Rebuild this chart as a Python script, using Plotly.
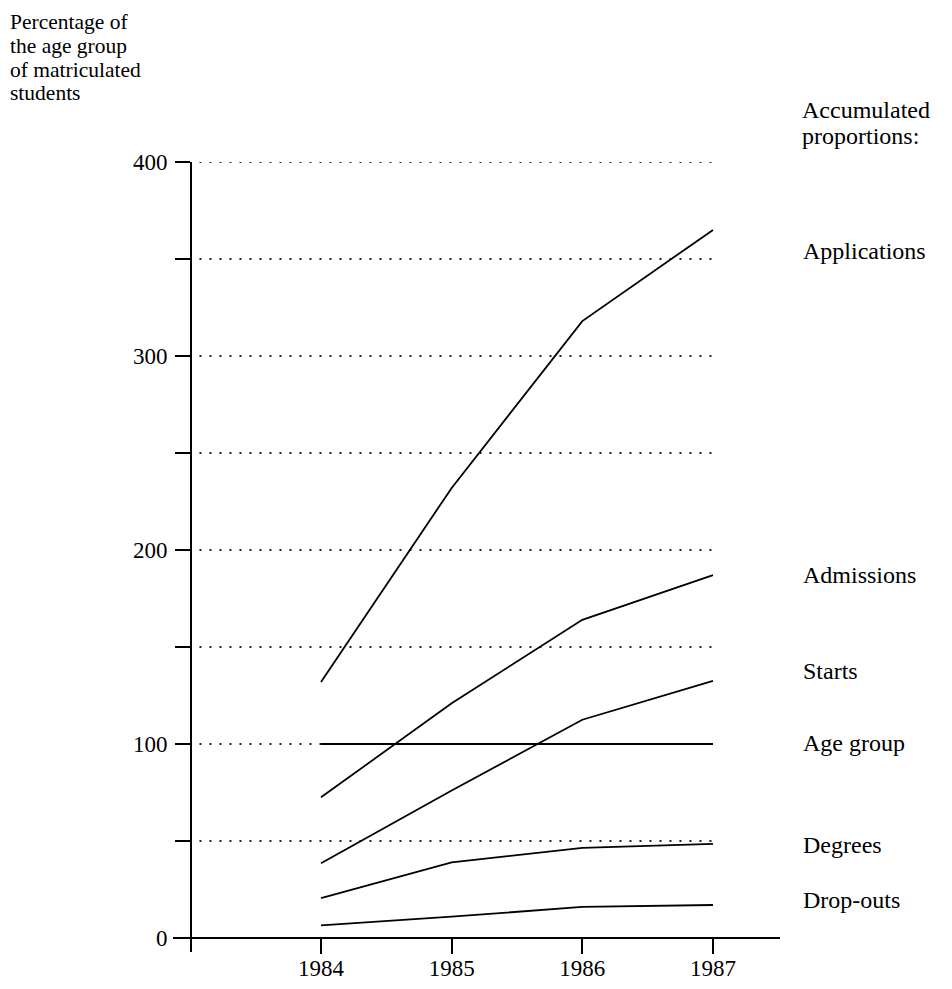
import plotly.graph_objects as go

years = [1984, 1985, 1986, 1987]
applications = [132, 232, 318, 365]
admissions = [72.5, 121, 164, 187]
starts = [38.5, 76, 112.5, 132.5]
age_group = [100, 100, 100, 100]
degrees = [20.5, 39, 46.5, 48.5]
dropouts = [6.5, 11, 16, 17]

series_names = ["Applications", "Admissions", "Starts", "Age group", "Degrees", "Drop-outs"]
series_values = [applications, admissions, starts, age_group, degrees, dropouts]

y_tick_vals = [0, 50, 100, 150, 200, 250, 300, 350, 400]
y_tick_text = ["0", "", "100", "", "200", "", "300", "", "400"]
grid_vals = [50, 100, 150, 200, 250, 300, 350, 400]

title_lines = ["Percentage of", "the age group", "of matriculated", "students"]
right_title = ["Accumulated", "proportions:"]

# page offset of the default html body margin
OFF = 8
W, H = 952 - OFF, 989 - OFF
# plot area in page pixels
L, R, T, B = 173, 780, 162, 952
Lf, Rf, Tf, Bf = L - OFF, R - OFF, T - OFF, B - OFF
FONT = "Liberation Serif, Times New Roman, serif"
FS = 23
FSW = 24
FST = 21.5

fig = go.Figure()

for g in grid_vals:
    fig.add_shape(type="line", xref="x", yref="y", x0=1983.07, x1=1987.03, y0=g, y1=g,
                  line=dict(color="#222", width=2, dash="2px,8px"), layer="below")

for name, vals in zip(series_names, series_values):
    fig.add_trace(go.Scatter(x=years, y=vals, mode="lines", name=name,
                             line=dict(color="black", width=1.8), showlegend=False,
                             hoverinfo="x+y+name"))

def py(p):
    return (B - p) / (B - T)

def px(p):
    return (p - L) / (R - L)

annotations = []
for i, t in enumerate(title_lines):
    annotations.append(dict(text=t, xref="paper", yref="paper", x=px(9), y=py(22 + 23.8 * i),
                            xanchor="left", yanchor="middle", showarrow=False, borderpad=0,
                            font=dict(family=FONT, size=FST, color="black")))

for i, t in enumerate(right_title):
    annotations.append(dict(text=t, xref="paper", yref="paper", x=px(801), y=py(110 + 25.5 * i),
                            xanchor="left", yanchor="middle", showarrow=False, borderpad=0,
                            font=dict(family=FONT, size=FSW, color="black")))

label_y = [354, 187, 137.5, 100.5, 48, 19.5]
for name, ly in zip(series_names, label_y):
    annotations.append(dict(text=name, xref="paper", yref="y", x=px(801), y=ly,
                            xanchor="left", yanchor="middle", showarrow=False,
                            font=dict(family=FONT, size=FSW, color="black")))

x0_data = 1984 - (321 - L) / 130.67
x1_data = 1987 + (R - 713) / 130.67
ybot = -(B - 938) / 1.94

fig.update_layout(
    width=W, height=H,
    margin=dict(l=Lf, r=W - Rf, t=Tf, b=H - Bf, autoexpand=False),
    paper_bgcolor="white", plot_bgcolor="white",
    annotations=annotations,
    font=dict(family=FONT, size=FS, color="black"),
    xaxis=dict(range=[x0_data, x1_data], tickvals=years, ticktext=[str(y) for y in years],
               showgrid=False, zeroline=False, showline=True, linecolor="black", linewidth=2,
               ticks="outside", ticklen=15, tickwidth=2, tickcolor="black",
               anchor="free", position=py(938), ticklabelstandoff=-6,
               tickfont=dict(family=FONT, size=FS, color="black")),
    yaxis=dict(range=[ybot, 400], tickvals=y_tick_vals, ticktext=y_tick_text,
               showgrid=False, zeroline=False, showline=True, linecolor="black", linewidth=2,
               ticks="outside", ticklen=15, tickwidth=2, tickcolor="black",
               anchor="free", position=px(191), ticklabelstandoff=3,
               tickfont=dict(family=FONT, size=FS, color="black")),
)

fig.write_html("out.html")
